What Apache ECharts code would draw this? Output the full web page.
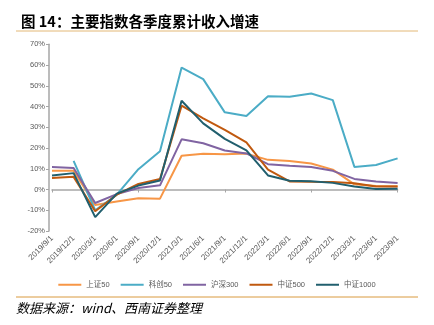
<!DOCTYPE html>
<html><head><meta charset="utf-8">
<script src="https://cdn.jsdelivr.net/npm/echarts@6/dist/echarts.min.js"></script>
<style>html,body{margin:0;padding:0;background:#fff;}#c{width:434px;height:325px;}</style>
</head><body><div id="c"></div>
<script>
const categories = ['2019/9/1','2019/12/1','2020/3/1','2020/6/1','2020/9/1','2020/12/1','2021/3/1','2021/6/1','2021/9/1','2021/12/1','2022/3/1','2022/6/1','2022/9/1','2022/12/1','2023/3/1','2023/6/1','2023/9/1'];
const sz50   = [9.1, 9.0, -7.5, -5.8, -4.2, -4.4, 16.3, 17.2, 17.0, 17.3, 14.3, 13.8, 12.5, 9.6, 2.5, 1.7, 1.6];
const kc50   = [null, 13.8, -10.0, -2.5, 9.8, 18.4, 58.8, 53.2, 37.2, 35.4, 45.0, 44.7, 46.3, 43.1, 10.9, 11.8, 15.0];
const hs300  = [10.8, 10.4, -6.5, -2.2, 0.7, 2.0, 24.2, 22.3, 18.8, 17.4, 12.2, 11.4, 10.8, 9.0, 5.1, 3.9, 3.1];
const zz500  = [5.5, 6.1, -10.5, -2.5, 2.7, 5.1, 40.4, 34.3, 28.7, 22.7, 9.6, 3.9, 3.7, 3.6, 3.0, 1.4, 1.5];
const zz1000 = [6.7, 7.9, -13.3, -2.0, 1.9, 4.3, 42.8, 31.9, 24.4, 18.9, 6.8, 4.2, 4.0, 3.2, 1.4, 0.3, 0.4];
const seriesNames = ['上证50','科创50','沪深300','中证500','中证1000'];
const yTicks = {min: -20, max: 70, interval: 10};

const colors = ['#F79646','#4BACC6','#8064A2','#C0590F','#215F6E'];
const dataList = [sz50, kc50, hs300, zz500, zz1000];
const chart = echarts.init(document.getElementById('c'), null, {renderer:'canvas'});
const labelFont = 'Liberation Sans, Arial, "Noto Sans CJK SC", sans-serif';
chart.setOption({
  animation: false,
  color: colors,
  title: {
    text: '图 14：主要指数各季度累计收入增速',
    left: 16, top: 9,
    textStyle: {fontSize: 14.5, fontWeight: 'bold', color: '#000', fontFamily: '"Noto Sans CJK SC", sans-serif'}
  },
  graphic: [
    {type:'line', shape:{x1:16,y1:31,x2:418,y2:31}, style:{stroke:'#E3B877', lineWidth:1}},
    {type:'line', shape:{x1:16,y1:297,x2:418,y2:297}, style:{stroke:'#D99A3E', lineWidth:1}},
    {type:'text', left: 16, top: 302, style:{text:'数据来源：wind、西南证券整理', font:'italic 13px "Noto Sans CJK SC", sans-serif', fill:'#000'}}
  ],
  legend: {
    data: seriesNames,
    top: 276, left: 'center',
    icon: 'rect', itemWidth: 23, itemHeight: 2, itemGap: 11,
    textStyle: {fontSize: 7.5, color: '#595959', fontFamily: labelFont}
  },
  grid: {left: 52, right: 36.4, top: 44.3, bottom: 94},
  xAxis: [
    {type:'category', data: categories, boundaryGap:false, position:'bottom',
     axisLine:{onZero:true, lineStyle:{color:'#A6A6A6', width:1.5}},
     axisTick:{show:true, length:3, lineStyle:{color:'#A6A6A6'}},
     axisLabel:{show:false}},
    {type:'category', data: categories, boundaryGap:false, position:'bottom',
     axisLine:{show:false, onZero:false}, axisTick:{show:false},
     axisLabel:{show:true, rotate:45, interval:0, fontSize:8, color:'#595959', margin:6, fontFamily: labelFont}}
  ],
  yAxis: {
    type:'value', min: yTicks.min, max: yTicks.max, interval: yTicks.interval, offset: 3,
    axisLine:{show:true, lineStyle:{color:'#A6A6A6', width:1.5}},
    axisTick:{show:true, length:3, lineStyle:{color:'#A6A6A6'}},
    splitLine:{show:false},
    axisLabel:{formatter:'{value}%', fontSize:7.5, color:'#595959', margin:4, fontFamily: labelFont}
  },
  series: seriesNames.map((n,i)=>({
    name:n, type:'line', data: dataList[i], xAxisIndex:0, showSymbol:false, symbol:'none',
    lineStyle:{width:2, color: colors[i]}, connectNulls:false
  }))
});
</script></body></html>
